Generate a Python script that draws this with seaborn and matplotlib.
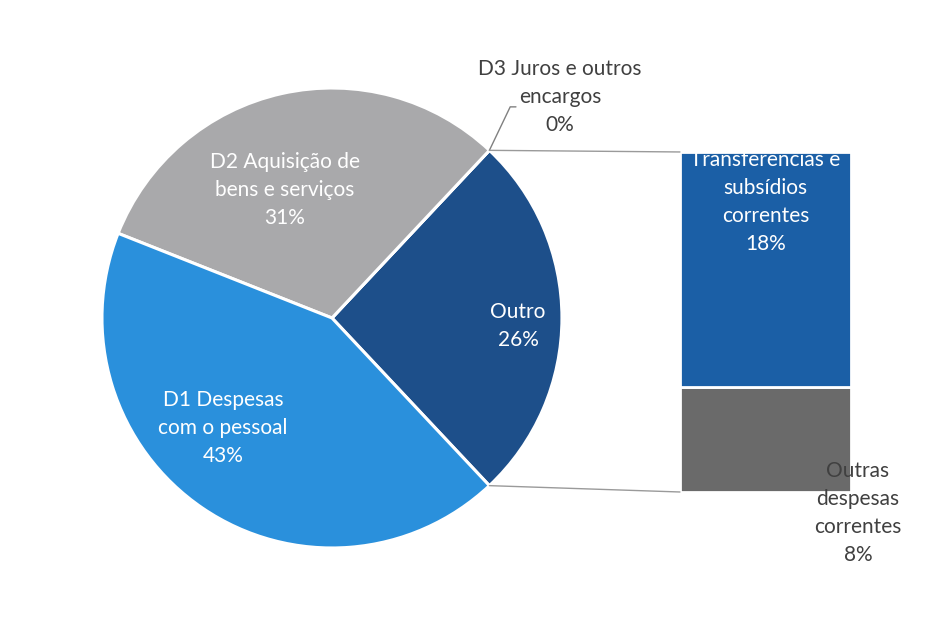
import numpy as np
import matplotlib
matplotlib.use("Agg")
import matplotlib.pyplot as plt
from matplotlib.patches import ConnectionPatch
import seaborn as sns

# ---------------------------------------------------------
# DATA
# ---------------------------------------------------------
pie_labels = ["Outro", "D3 Juros e outros\nencargos", "D2 Aquisição de\nbens e serviços", "D1 Despesas\ncom o pessoal"]
pie_values = [26, 0, 31, 43]
pie_colors = ["#1d4f8a", "#8a8a8a", "#a9a9ab", "#2a90dc"]

bar_labels = ["Outras\ndespesas\ncorrentes", "Transferências e\nsubsídios\ncorrentes"]
bar_values = [8, 18]
bar_colors = ["#6a6a6a", "#1b5fa6"]

sns.set_theme(style="white")
plt.rcParams["font.family"] = ["Lato", "DejaVu Sans"]

fig = plt.figure(figsize=(9.27, 6.18), dpi=100)

# pie axes
ax = fig.add_axes([0.110, 0.1133, 0.4962, 0.7443])
half = pie_values[0] / sum(pie_values) * 360 / 2
wedges, _ = ax.pie(pie_values, colors=pie_colors, startangle=-half, counterclock=True,
                   radius=1, wedgeprops=dict(edgecolor="white", linewidth=2.2))
ax.set_xlim(-1, 1)
ax.set_ylim(-1, 1)
ax.set_aspect("equal")
ax.axis("off")

fs = 15
ls = 1.5
ax.text(0.809, -0.035, f"{pie_labels[0]}\n{pie_values[0]}%", color="white", ha="center",
        va="center", fontsize=fs, linespacing=ls)
ax.text(-0.204, 0.557, f"{pie_labels[2]}\n{pie_values[2]}%", color="white", ha="center",
        va="center", fontsize=fs, linespacing=ls)
ax.text(-0.474, -0.478, f"{pie_labels[3]}\n{pie_values[3]}%", color="white", ha="center",
        va="center", fontsize=fs, linespacing=ls)
ax.text(0.991, 0.96, f"{pie_labels[1]}\n{pie_values[1]}%", color="#404040", ha="center",
        va="center", fontsize=fs, linespacing=ls, clip_on=False)
ang = np.deg2rad(half)
ax.plot([0.80, 0.775, np.cos(ang)], [0.918, 0.918, np.sin(ang)], color="#808080", lw=1,
        clip_on=False)

# bar axes
bx = fig.add_axes([0.7335, 0.2039, 0.1845, 0.5502])
bottom = 0
bars = []
for lab, val, col in zip(bar_labels, bar_values, bar_colors):
    b = bx.bar(0, val, bottom=bottom, width=1, color=col, edgecolor="white", linewidth=2)
    bars.append(b)
    bottom += val
bx.set_xlim(-0.5, 0.5)
bx.set_ylim(0, sum(bar_values))
bx.axis("off")

t = bx.text(0, 22.2, f"{bar_labels[1]}\n{bar_values[1]}%", color="white", ha="center",
            va="center", fontsize=fs, linespacing=ls)
t.set_clip_path(bars[1].patches[0])
bx.text(0.54, -1.6, f"{bar_labels[0]}\n{bar_values[0]}%", color="#404040", ha="center",
        va="center", fontsize=fs, linespacing=ls, clip_on=False)

# connector lines
for yb, a in [(sum(bar_values), ang), (0, -ang)]:
    con = ConnectionPatch(xyA=(np.cos(a), np.sin(a)), coordsA=ax.transData,
                          xyB=(-0.5, yb), coordsB=bx.transData, color="#9a9a9a", lw=1)
    fig.add_artist(con)

fig.savefig("out.png", dpi=100, facecolor="white")
